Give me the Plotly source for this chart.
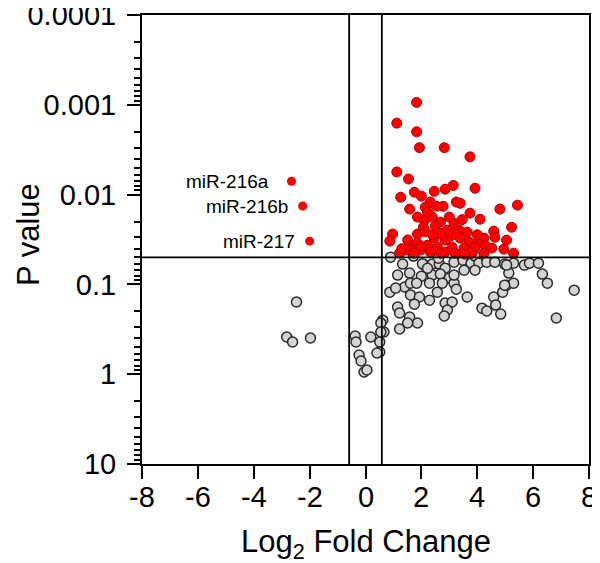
import numpy as np
import plotly.graph_objects as go

# Significant miRNAs (red): log2 fold change and P value
sig_fc = [1.83, 1.12, 1.83, 1.93, 2.82, 3.74, 1.12, 1.54, 3.14, 2.85, 2.46, 3.92, 1.75, 2.00, 1.26,
          5.44, 4.81, 2.32, 3.25, 3.39, 2.78, 2.54, 2.14, 1.58, 3.74, 4.10, 5.23, 4.59, 5.05, 4.95,
          5.30, 0.97, 0.87, 1.22, 1.86, 4.24, 4.63, 1.86, 2.11, 2.39, 2.68, 3.00, 3.17, 2.07, 2.50,
          2.93, 2.46, 2.85, 2.22, 1.86, 2.57, 1.58, 1.97, 2.32, 2.85, 3.10, 1.44, 1.75, 3.21, 3.35,
          3.64, 3.17, 3.39, 3.71, 3.99, 3.53, 3.92, 4.27, 4.52, 4.24, 3.81, 2.14, 2.68, 1.51, 2.22,
          3.46, 2.00, 2.70, 3.55, 1.30, 4.00, 3.05, 2.40]
sig_p = [0.00094, 0.0016, 0.0020, 0.0030, 0.0030, 0.0038, 0.0056, 0.0067, 0.0079, 0.0087, 0.0092,
         0.0085, 0.0094, 0.0104, 0.0107, 0.0131, 0.0145, 0.0121, 0.0121, 0.0125, 0.0135, 0.0135,
         0.0138, 0.0145, 0.0161, 0.0188, 0.0231, 0.0255, 0.0321, 0.0405, 0.0449, 0.0275, 0.0330,
         0.0449, 0.0275, 0.0305, 0.0298, 0.0178, 0.0193, 0.0178, 0.0203, 0.0178, 0.0208, 0.0231,
         0.0224, 0.0249, 0.0305, 0.0321, 0.0365, 0.0347, 0.0385, 0.0385, 0.0415, 0.0437, 0.0437,
         0.0385, 0.0415, 0.0449, 0.0449, 0.0249, 0.0262, 0.0269, 0.0305, 0.0338, 0.0347, 0.0394,
         0.0385, 0.0365, 0.0394, 0.0449, 0.0449, 0.026, 0.027, 0.032, 0.0157, 0.019, 0.038, 0.045,
         0.046, 0.040, 0.028, 0.029, 0.028]

# Non-significant miRNAs (grey)
ns_fc = [0.90, 1.33, 1.72, 2.11, 2.39, 2.64, 2.85, 3.17, 3.49, 3.78, 3.92, 4.06, 4.34, 4.63, 4.98,
         5.30, 5.69, 5.87, 6.19, 1.15, 1.58, 2.00, 2.39, 2.68, 3.00, 3.53, 3.92, 1.40, 1.61, 1.83,
         2.29, 2.75, 3.17, 3.17, 2.57, 0.87, 1.08, 1.61, 1.93, 2.29, 1.75, 1.15, 1.22, 1.58, 2.85,
         3.10, 2.93, 2.82, 3.64, 0.62, 0.55, 1.86, 1.51, 1.22, 0.66, 0.51, 0.51, 4.17, 4.34, 4.59,
         4.66, 4.84, 4.91, 5.05, 5.30, 5.13, 6.33, 6.51, 7.47, 6.83, -2.47, -2.82, -2.61, -1.97,
         -0.37, -0.34, -0.23, -0.16, -0.05, 0.05, 0.19, 0.41, 0.55, 2.61, 2.04, 2.22, 3.25, 4.98,
         5.05]
ns_p = [0.0497, 0.0594, 0.0484, 0.0610, 0.0594, 0.0594, 0.0659, 0.0565, 0.0537, 0.0580, 0.0484,
        0.0580, 0.0565, 0.0565, 0.0594, 0.0580, 0.0610, 0.0580, 0.0580, 0.0787, 0.0748, 0.0809,
        0.0787, 0.0768, 0.0851, 0.0694, 0.0694, 0.107, 0.0968, 0.0968, 0.0968, 0.0968, 0.0968,
        0.0787, 0.122, 0.122, 0.110, 0.131, 0.138, 0.150, 0.166, 0.179, 0.208, 0.231, 0.161,
        0.157, 0.193, 0.225, 0.138, 0.250, 0.269, 0.269, 0.269, 0.314, 0.339, 0.438, 0.566,
        0.184, 0.198, 0.138, 0.170, 0.214, 0.122, 0.102, 0.0968, 0.0748, 0.0768, 0.0968, 0.116,
        0.237, 0.157, 0.385, 0.438, 0.395, 0.376, 0.438, 0.611, 0.713, 0.944, 0.898, 0.385,
        0.580, 0.339, 0.051, 0.059, 0.066, 0.113, 0.102, 0.061]

# Labelled miRNAs
lab_names = ["miR-216a", "miR-216b", "miR-217"]
lab_fc = [-2.65, -2.25, -2.00]
lab_p = [0.0071, 0.0134, 0.033]
lab_shift = [-20, -13, -13]

# Thresholds
fc_cut = 0.585
p_cut = 0.05

x_range = [-8, 8]
x_ticks = [-8, -6, -4, -2, 0, 2, 4, 6, 8]
x_ticktext = ["-8", "-6", "-4", "-2", "0", "2", "4", "6", "8"]
y_ticks = [0.0001, 0.001, 0.01, 0.1, 1, 10]
y_ticktext = ["0.0001", "0.001", "0.01", "0.1", "1", "10"]
y_minor = [m * 10.0 ** e for e in range(-4, 1) for m in range(2, 10)]

FONT = "Liberation Sans, Arial, sans-serif"

fig = go.Figure()

fig.add_trace(go.Scatter(
    x=ns_fc, y=ns_p, mode="markers",
    marker=dict(size=10, color="#d4d4d4", line=dict(color="#2a2a2a", width=1.5)),
    cliponaxis=False, showlegend=False, hoverinfo="skip"))

fig.add_trace(go.Scatter(
    x=sig_fc, y=sig_p, mode="markers",
    marker=dict(size=10, color="#ff0000", line=dict(color="#b00000", width=1)),
    cliponaxis=False, showlegend=False, hoverinfo="skip"))

fig.add_trace(go.Scatter(
    x=lab_fc, y=lab_p, mode="markers",
    marker=dict(size=9, color="#ff0000", line=dict(width=0)),
    showlegend=False, hoverinfo="skip"))

for v in (-fc_cut, fc_cut):
    fig.add_trace(go.Scatter(x=[v, v], y=[0.0001, 10], mode="lines",
                             line=dict(color="black", width=1.8),
                             showlegend=False, hoverinfo="skip"))
fig.add_trace(go.Scatter(x=x_range, y=[p_cut, p_cut], mode="lines",
                         line=dict(color="black", width=1.8),
                         showlegend=False, hoverinfo="skip"))

for name, fx, py, sh in zip(lab_names, lab_fc, lab_p, lab_shift):
    fig.add_annotation(x=fx, y=np.log10(py), text=name, showarrow=False,
                       xanchor="right", yanchor="middle", xshift=sh,
                       font=dict(family=FONT, size=19, color="black"))

# x tick labels, placed under each tick (paper fraction along the x axis)
for tv, tt in zip(x_ticks, x_ticktext):
    frac = (tv - x_range[0]) / (x_range[1] - x_range[0])
    fig.add_annotation(x=frac, y=-0.074, xref="paper", yref="paper", text=tt,
                       showarrow=False, xanchor="center", yanchor="middle",
                       font=dict(family=FONT, size=29, color="black"))

# axis titles
fig.add_annotation(x=0.5, y=-0.178, xref="paper", yref="paper",
                   text="Log<sub>2</sub> Fold Change", showarrow=False,
                   xanchor="center", yanchor="middle",
                   font=dict(family=FONT, size=31, color="black"))
fig.add_annotation(x=-0.255, y=0.51, xref="paper", yref="paper",
                   text="P value", showarrow=False, textangle=-90,
                   xanchor="center", yanchor="middle",
                   font=dict(family=FONT, size=31, color="black"))

# page body adds an 8px offset, so the figure is sized to fit the 600x563 window
fig.update_layout(
    width=592, height=555,
    margin=dict(l=134, r=11, t=7, b=99, autoexpand=False),
    paper_bgcolor="white", plot_bgcolor="white",
    font=dict(family=FONT, color="black"),
)

fig.update_xaxes(
    range=x_range, tickvals=x_ticks, showticklabels=False,
    ticks="outside", ticklen=13, tickwidth=2, tickcolor="black",
    showline=True, linecolor="black", linewidth=2, mirror=True,
    showgrid=False, zeroline=False, automargin=False,
)

fig.update_yaxes(
    type="log", range=[1, -4],
    tickvals=y_ticks, ticktext=y_ticktext,
    ticks="outside", ticklen=13, tickwidth=2, tickcolor="black",
    minor=dict(tickvals=y_minor, ticks="outside", ticklen=6, tickwidth=2,
               tickcolor="black", showgrid=False),
    showline=True, linecolor="black", linewidth=2, mirror=True,
    showgrid=False, zeroline=False, automargin=False,
    tickfont=dict(family=FONT, size=29), ticklabelstandoff=5,
    ticklabeloverflow="allow",
)

fig.write_html("out.html")
